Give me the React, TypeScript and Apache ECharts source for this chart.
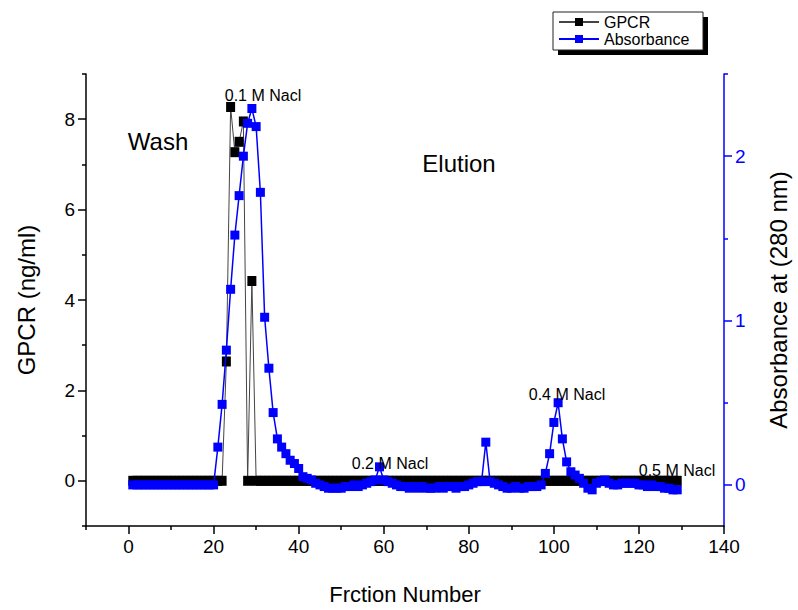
import React, { useEffect, useRef } from "react";
import * as echarts from "echarts";

// Fractions start at 1 and go up by one per value
const firstFraction = 1;

// GPCR (ng/ml), fractions 1..129
const gpcrValues = [
  0, 0, 0, 0, 0, 0, 0, 0, 0, 0,
  0, 0, 0, 0, 0, 0, 0, 0, 0, 0,
  0, 0, 2.64, 8.27, 7.27, 7.5, 7.95, 0, 4.42, 0,
  0, 0, 0, 0, 0, 0, 0, 0, 0, 0,
  0, 0, 0, 0, 0, 0, 0, 0, 0, 0,
  0, 0, 0, 0, 0, 0, 0, 0, 0, 0,
  0, 0, 0, 0, 0, 0, 0, 0, 0, 0,
  0, 0, 0, 0, 0, 0, 0, 0, 0, 0,
  0, 0, 0, 0, 0, 0, 0, 0, 0, 0,
  0, 0, 0, 0, 0, 0, 0, 0, 0, 0,
  0, 0, 0, 0, 0, 0, 0, 0, 0, 0,
  0, 0, 0, 0, 0, 0, 0, 0, 0, 0,
  0, 0, 0, 0, 0, 0, 0, 0, 0,
];

// Absorbance at 280 nm, fractions 1..129
const absorbanceValues = [
  0, 0, 0, 0, 0, 0, 0, 0, 0, 0,
  0, 0, 0, 0, 0, 0, 0, 0, 0, 0,
  0.23, 0.49, 0.82, 1.19, 1.52, 1.76, 2.0, 2.2, 2.29, 2.18,
  1.78, 1.02, 0.71, 0.44, 0.28, 0.23, 0.19, 0.15, 0.13, 0.1,
  0.05, 0.04, 0.03, 0.01, 0.0, -0.01, -0.02, -0.02, -0.02, -0.02,
  -0.01, -0.01, 0.0, -0.01, 0.0, 0.01, 0.02, 0.03, 0.11, 0.03,
  0.02, 0.01, 0.0, -0.01, -0.01, -0.02, -0.01, -0.02, -0.01, -0.02,
  -0.02, -0.02, -0.01, -0.02, -0.01, -0.01, -0.02, -0.01, -0.01, 0.0,
  0.01, 0.02, 0.02, 0.26, 0.02, 0.01, 0.0, -0.01, -0.02, -0.02,
  -0.01, -0.02, -0.02, -0.01, -0.01, -0.01, 0.0, 0.07, 0.19, 0.38,
  0.5, 0.28, 0.14, 0.08, 0.06, 0.04, 0.01, -0.02, -0.03, 0.01,
  0.02, 0.03, 0.01, 0.0, 0.0, 0.01, 0.01, 0.01, 0.01, 0.0,
  0.0, -0.01, 0.0, -0.01, -0.01, -0.02, -0.02, -0.03, -0.03,
];

const xLabelTicks = [0, 20, 40, 60, 80, 100, 120, 140];
const xMinorTicks = [-10, 10, 30, 50, 70, 90, 110, 130];
const gpcrLabelTicks = [0, 2, 4, 6, 8];
const gpcrMinorTicks = [-1, 1, 3, 5, 7, 9];
const absLabelTicks = [0, 1, 2];
const absMinorTicks = [0.5, 1.5, 2.5];

const annotations = [
  { text: "0.1 M Nacl", x: 263, y: 95, size: 16 },
  { text: "Wash", x: 158, y: 141, size: 24 },
  { text: "Elution", x: 459, y: 163, size: 24 },
  { text: "0.2 M Nacl", x: 390, y: 463, size: 16 },
  { text: "0.4 M Nacl", x: 567, y: 394, size: 16 },
  { text: "0.5 M Nacl", x: 677, y: 470, size: 16 },
];

const FONT = "'Liberation Sans', Arial, Helvetica, sans-serif";
const BLUE = "#0000ff";

export default function App() {
  const ref = useRef<HTMLDivElement>(null);

  useEffect(() => {
    if (!ref.current) return;
    const chart = echarts.init(ref.current, null, { renderer: "svg" });
    const gpcrData = gpcrValues.map((v, i) => [firstFraction + i, v]);
    const absData = absorbanceValues.map((v, i) => [firstFraction + i, v]);

    const baseX = {
      type: "value",
      min: -10,
      max: 140,
      interval: 10,
      position: "bottom",
      splitLine: { show: false },
    };

    chart.setOption({
      animation: false,
      backgroundColor: "#ffffff",
      grid: { left: 86, right: 70, top: 74, bottom: 73, containLabel: false },
      graphic: [
        { type: "rect", z: 1, shape: { x: 558, y: 17, width: 150, height: 38 }, style: { fill: "#000" } },
        { type: "rect", z: 2, shape: { x: 553, y: 12, width: 150, height: 38 }, style: { fill: "#fff", stroke: "#222", lineWidth: 1 } },
        ...annotations.map((a) => ({
          type: "text",
          z: 10,
          x: a.x,
          y: a.y,
          style: {
            text: a.text,
            fontSize: a.size,
            fontFamily: FONT,
            fill: "#000",
            align: "center",
            verticalAlign: "middle",
            textAlign: "center",
            textVerticalAlign: "middle",
          },
        })),
      ],
      legend: {
        orient: "vertical",
        left: 558,
        top: 14,
        padding: 0,
        itemWidth: 40,
        itemHeight: 10,
        itemGap: 1,
        z: 20,
        data: ["GPCR", "Absorbance"],
        textStyle: { fontSize: 16, fontFamily: FONT, color: "#000", padding: [0, 0, 0, 0] },
      },
      xAxis: [
        {
          ...baseX,
          name: "Frction Number",
          nameLocation: "middle",
          nameGap: 57,
          nameTextStyle: { fontSize: 22, fontFamily: FONT, color: "#000" },
          axisLine: { show: true, onZero: false, lineStyle: { color: "#000", width: 1.5 } },
          axisTick: { show: true, length: 8, customValues: xLabelTicks, lineStyle: { color: "#000", width: 1.5 } },
          axisLabel: { customValues: xLabelTicks, color: "#000", fontSize: 19, fontFamily: FONT, margin: 11 },
        },
        {
          ...baseX,
          axisLine: { show: false, onZero: false },
          axisTick: { show: true, length: 4, customValues: xMinorTicks, lineStyle: { color: "#000", width: 1.5 } },
          axisLabel: { show: false },
        },
      ],
      yAxis: [
        {
          type: "value",
          min: -1,
          max: 9,
          position: "left",
          splitLine: { show: false },
          name: "GPCR (ng/ml)",
          nameLocation: "middle",
          nameGap: 48,
          nameTextStyle: { fontSize: 24, fontFamily: FONT, color: "#000" },
          axisLine: { show: true, onZero: false, lineStyle: { color: "#000", width: 1.5 } },
          axisTick: { show: true, length: 8, customValues: gpcrLabelTicks, lineStyle: { color: "#000", width: 1.5 } },
          axisLabel: { customValues: gpcrLabelTicks, color: "#000", fontSize: 19, fontFamily: FONT, margin: 11 },
        },
        {
          type: "value",
          min: -0.25,
          max: 2.5,
          position: "right",
          splitLine: { show: false },
          name: "Absorbance at (280 nm)",
          nameLocation: "middle",
          nameGap: 42,
          nameTextStyle: { fontSize: 24, fontFamily: FONT, color: "#000" },
          axisLine: { show: true, onZero: false, lineStyle: { color: BLUE, width: 1.5 } },
          axisTick: { show: true, length: 8, customValues: absLabelTicks, lineStyle: { color: BLUE, width: 1.5 } },
          axisLabel: { customValues: absLabelTicks, color: BLUE, fontSize: 19, fontFamily: FONT, margin: 11 },
        },
        {
          type: "value",
          min: -1,
          max: 9,
          position: "left",
          splitLine: { show: false },
          axisLine: { show: false, onZero: false },
          axisTick: { show: true, length: 4, customValues: gpcrMinorTicks, lineStyle: { color: "#000", width: 1.5 } },
          axisLabel: { show: false },
        },
        {
          type: "value",
          min: -0.25,
          max: 2.5,
          position: "right",
          splitLine: { show: false },
          axisLine: { show: false, onZero: false },
          axisTick: { show: true, length: 4, customValues: absMinorTicks, lineStyle: { color: BLUE, width: 1.5 } },
          axisLabel: { show: false },
        },
      ],
      series: [
        {
          name: "GPCR",
          type: "line",
          xAxisIndex: 0,
          yAxisIndex: 0,
          data: gpcrData,
          symbol: "rect",
          symbolSize: [9, 10],
          showAllSymbol: true,
          itemStyle: { color: "#000" },
          lineStyle: { color: "#444", width: 1 },
          z: 3,
        },
        {
          name: "Absorbance",
          type: "line",
          xAxisIndex: 0,
          yAxisIndex: 1,
          data: absData,
          symbol: "rect",
          symbolSize: 9,
          showAllSymbol: true,
          itemStyle: { color: BLUE },
          lineStyle: { color: BLUE, width: 1.5 },
          z: 4,
        },
      ],
    });
    return () => chart.dispose();
  }, []);

  return (
    <div
      ref={ref}
      style={{ position: "absolute", left: 0, top: 0, width: 798, height: 610, background: "#fff" }}
    />
  );
}
